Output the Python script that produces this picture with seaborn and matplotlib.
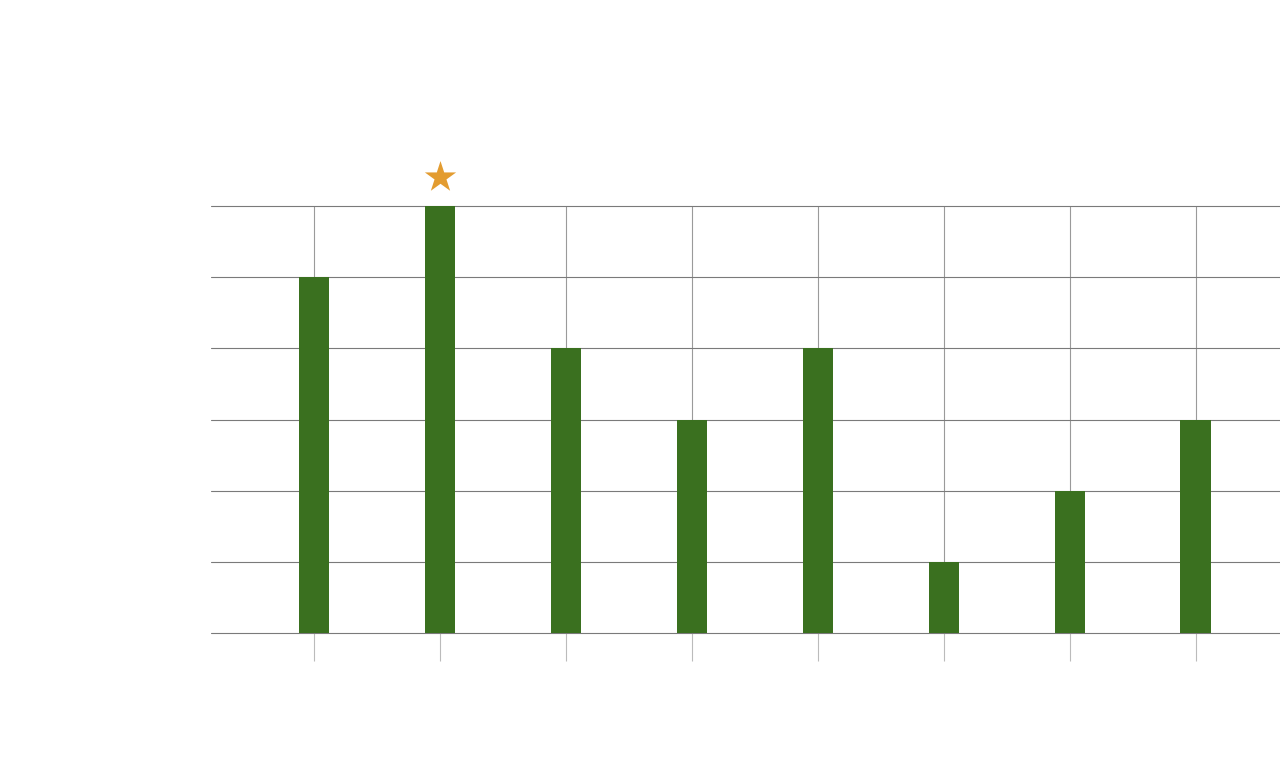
import matplotlib
matplotlib.use("Agg")
import matplotlib.pyplot as plt
import matplotlib.transforms as mtransforms
import pandas as pd
import seaborn as sns

# Chart values (no visible labels in the reference)
categories = ["c1", "c2", "c3", "c4", "c5", "c6", "c7", "c8"]
values = [5, 6, 4, 3, 4, 1, 2, 3]
y_ticks = [0, 1, 2, 3, 4, 5, 6]

BAR_COLOR = "#3a701f"
STAR_COLOR = "#e39c30"

df = pd.DataFrame({"category": categories, "value": values})

sns.set_style("white")
fig = plt.figure(figsize=(12.8, 7.6), dpi=100)
ax = fig.add_axes([211 / 1280, 1 - 633 / 760, 1 - 211 / 1280, (633 - 206) / 760])

sns.barplot(data=df, x="category", y="value", color=BAR_COLOR, width=0.24,
            saturation=1, linewidth=0, ax=ax, zorder=3)

ax.set_ylim(0, 6)
ax.set_xlim(-0.817, 7.67)
ax.set_yticks(y_ticks)

# grid
ax.grid(axis="y", color="#7a7a7a", linewidth=0.8, zorder=0)
ax.grid(axis="x", color="#9a9a9a", linewidth=0.8, zorder=0)
for gl in ax.get_ygridlines():
    gl.set_clip_on(False)
ax.set_axisbelow(True)
for s in ax.spines.values():
    s.set_visible(False)

ax.tick_params(axis="x", bottom=True, direction="out", length=20, width=0.8,
               color="#bbbbbb", labelbottom=False)
ax.tick_params(axis="y", left=False, length=0, labelleft=False)
ax.set_xlabel("")
ax.set_ylabel("")

# star over the highest bar
top = values.index(max(values))
star_tr = mtransforms.offset_copy(ax.transData, fig=fig, x=0, y=21, units="points")
ax.scatter([top], [max(values)], marker="*", s=560, color=STAR_COLOR,
           linewidths=0, transform=star_tr, clip_on=False, zorder=5)

fig.savefig("out.png", dpi=100, facecolor="white")
